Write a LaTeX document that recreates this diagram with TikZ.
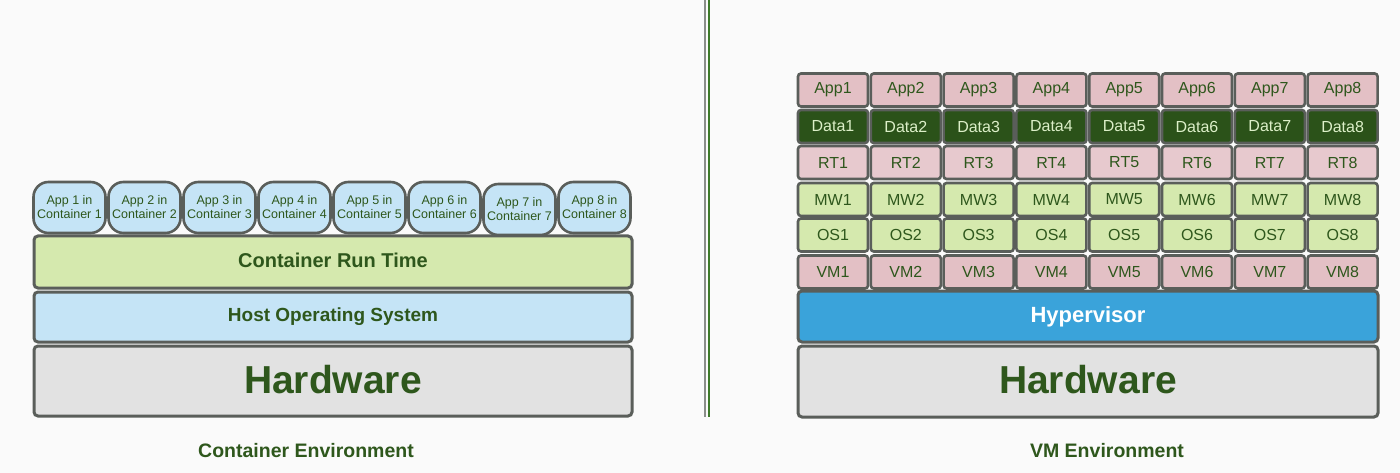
\documentclass[tikz,border=0pt]{standalone}
\usepackage{fontspec}
\setmainfont{Liberation Sans}
\definecolor{bg}{HTML}{FAFAFA}
\definecolor{edge}{HTML}{5A5E5A}
\definecolor{txt}{HTML}{2E571C}
\definecolor{cblue}{HTML}{C5E4F6}
\definecolor{lgreen}{HTML}{D5E9AE}
\definecolor{pinkc}{HTML}{E3C0C5}
\definecolor{dgreen}{HTML}{2B5219}
\definecolor{datatxt}{HTML}{DCEFC8}
\definecolor{hyper}{HTML}{3AA3DA}
\definecolor{hw}{HTML}{E2E2E2}
\definecolor{divgreen}{HTML}{3E7A2A}
\definecolor{divgray}{HTML}{8A8E8A}
\tikzset{
  layer/.style={draw=edge, line width=3pt, rounded corners=4pt, text=txt, inner sep=0pt},
  cont/.style={draw=edge, line width=2.6pt, rounded corners=15pt, fill=cblue, text=txt,
     minimum width=72, minimum height=51, align=center, inner sep=0pt,
     font=\fontsize{12.5}{14}\selectfont},
  cell/.style={draw=edge, line width=2.6pt, rounded corners=3pt, text=txt,
     minimum width=70, minimum height=33, inner sep=0pt,
     font=\fontsize{16}{18}\selectfont},
  envlabel/.style={text=txt, font=\fontsize{19.5}{22}\bfseries\selectfont}
}
\begin{document}
\begin{tikzpicture}[x=1pt,y=-1pt]
\useasboundingbox (0,0) rectangle (1400,473);
\fill[bg] (0,0) rectangle (1400,473);
% divider
\draw[divgray, line width=2pt] (705,0) coordinate (d1) -- (705,417) coordinate (d2);
\draw[divgreen, line width=2pt] (708.5,0) coordinate (d3) -- (708.5,417) coordinate (d4);
% left stack
\node[layer, fill=hw, minimum width=598, minimum height=70, font=\fontsize{39}{44}\bfseries\selectfont] (lhw) at (333,381) {\raisebox{4pt}{Hardware}};
\node[layer, fill=cblue, minimum width=598, minimum height=50, font=\fontsize{19}{22}\bfseries\selectfont] (los) at (333,317) {\raisebox{1pt}{Host Operating System}};
\node[layer, fill=lgreen, minimum width=598, minimum height=52, font=\fontsize{20}{23}\bfseries\selectfont] (lrt) at (333,262) {\raisebox{2.5pt}{Container Run Time}};
\foreach \i in {1,...,8}{
  \pgfmathsetmacro{\cx}{69.5+75*(\i-1)}
  \pgfmathsetmacro{\cy}{ifthenelse(\i==7,209.5,207.5)}
  \node[cont] (c\i) at (\cx,\cy) {App \i{} in\\Container \i};
}
\node[envlabel] (lenv) at (306,451) {Container Environment};
% right stack
\node[layer, fill=hw, minimum width=580, minimum height=71, font=\fontsize{39}{44}\bfseries\selectfont] (rhw) at (1088,381.5) {\raisebox{4pt}{Hardware}};
\node[layer, fill=hyper, text=white, minimum width=580, minimum height=51, font=\fontsize{22}{25}\bfseries\selectfont] (hyp) at (1088,316.5) {Hypervisor};
\foreach \i in {1,...,8}{
  \pgfmathsetmacro{\cx}{833+72.8*(\i-1)}
  \node[cell, fill=pinkc] (app\i) at (\cx,90) {App\i};
  \node[cell, fill=dgreen, text=datatxt] (data\i) at (\cx,126.5) {Data\i};
  \node[cell, fill=pinkc!85!white] (rt\i) at (\cx,162.5) {RT\i};
  \node[cell, fill=lgreen] (mw\i) at (\cx,199.5) {MW\i};
  \node[cell, fill=lgreen] (os\i) at (\cx,235) {OS\i};
  \node[cell, fill=pinkc] (vm\i) at (\cx,272) {VM\i};
}
\node[envlabel] (renv) at (1107,451) {VM Environment};
\end{tikzpicture}
\end{document}
